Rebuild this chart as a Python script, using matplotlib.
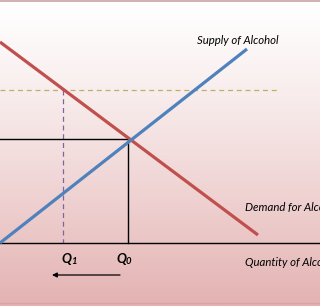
import numpy as np
import matplotlib
matplotlib.use("Agg")
import matplotlib.pyplot as plt

# Chart data (pixel-like units; y grows downward)
demand_q = [0, 258]
demand_p = [42, 235]
supply_q = [0, 247]
supply_p = [243, 49]
equilibrium_q = 128
equilibrium_p = 139
tax_price = 90
tax_q = 63
tax_line_end = 278
axis_y = 243
arrow_from = 120
arrow_to = 52
labels = {"supply": "Supply of Alcohol", "demand": "Demand for Alcohol",
          "quantity": "Quantity of Alcohol"}
q_labels = [("Q", "1"), ("Q", "0")]
q_label_x = [61, 116]

W, H = 320, 306
fig = plt.figure(figsize=(W / 100, H / 100), dpi=100)
ax = fig.add_axes([0, 0, 1, 1])
ax.set_xlim(0, W)
ax.set_ylim(H, 0)
ax.axis("off")

# gradient background
t = np.linspace(0, 1, 300)[:, None]
top = np.array([1.0, 1.0, 1.0])
bot = np.array([228, 178, 178]) / 255
w = t ** 1.2
grad = top * (1 - w) + bot * w
img = np.repeat(grad[:, None, :], 2, axis=1)
ax.imshow(img, extent=[0, W, H, 0], aspect="auto", zorder=0)
ax.axhline(1, color="#c9a4a4", lw=1.2, zorder=1)
ax.axhline(303, color="#d6a6a6", lw=1.0, zorder=1)

# tax price dashed line & Q1 dashed
ax.plot([0, tax_line_end], [tax_price, tax_price], color="#b9b26a", lw=0.9,
        dashes=(4, 3), zorder=2)
ax.plot([tax_q, tax_q], [tax_price, axis_y], color="#8064a2", lw=0.9,
        dashes=(4, 3), zorder=2)

# equilibrium lines
ax.plot([0, equilibrium_q], [equilibrium_p, equilibrium_p], color="black", lw=1.0, zorder=2)
ax.plot([equilibrium_q, equilibrium_q], [equilibrium_p, axis_y], color="black", lw=1.0, zorder=2)

# x-axis
ax.plot([0, W], [axis_y, axis_y], color="black", lw=1.0, zorder=2)

# curves
ax.plot(demand_q, demand_p, color="#c0504d", lw=2.3, solid_capstyle="butt", zorder=3)
ax.plot(supply_q, supply_p, color="#4f81bd", lw=2.3, solid_capstyle="butt", zorder=3)

font = ["Lato", "DejaVu Sans"]
ax.text(197, 41, labels["supply"], fontsize=8.2, style="italic", family=font,
        va="center", ha="left", color="black")
ax.text(245, 208, labels["demand"], fontsize=8.2, style="italic", family=font,
        va="center", ha="left", color="black")
ax.text(245, 262, labels["quantity"], fontsize=8.2, style="italic", family=font,
        va="center", ha="left", color="black")
for (q, sub), x in zip(q_labels, q_label_x):
    ax.text(x, 259, q, fontsize=9.5, style="italic", weight="bold", family=font,
            va="center", ha="left")
    ax.text(x + 10, 261.5, sub, fontsize=6.8, style="italic", weight="bold",
            family=font, va="center", ha="left")

ax.annotate("", xy=(arrow_to, 275), xytext=(arrow_from, 275),
            arrowprops=dict(arrowstyle="-|>", color="black", lw=0.9,
                            mutation_scale=7, shrinkA=0, shrinkB=0))

fig.savefig("out.png", dpi=100)
